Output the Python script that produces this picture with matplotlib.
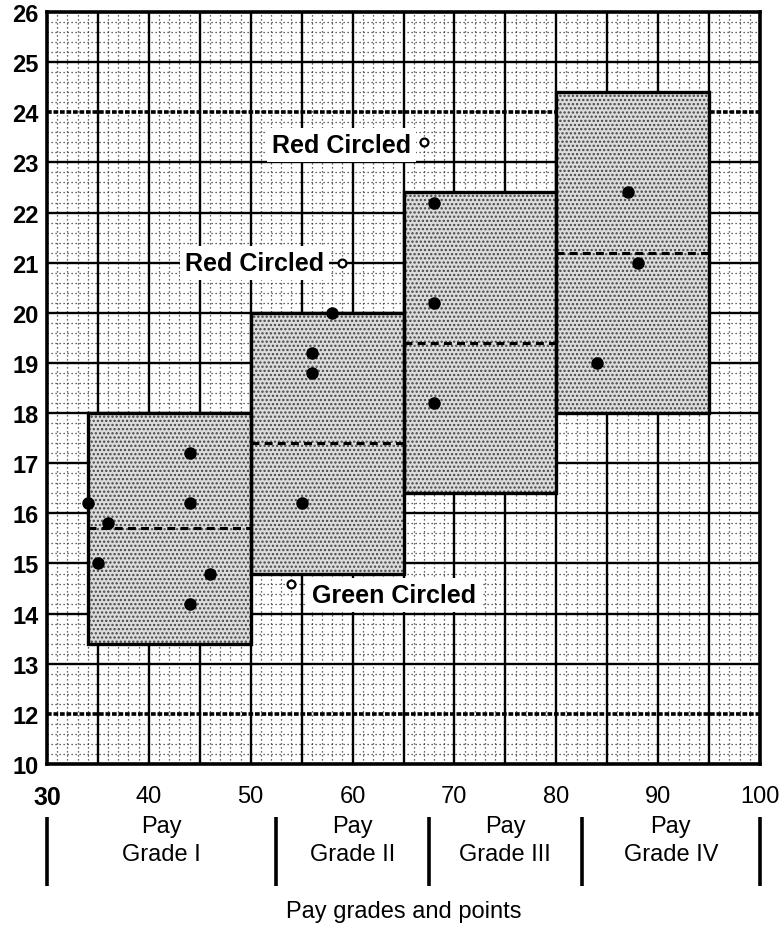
import numpy as np
import matplotlib
matplotlib.use("Agg")
import matplotlib.pyplot as plt
import matplotlib.transforms as mtransforms
from matplotlib.patches import Rectangle

plt.rcParams["font.family"] = ["Liberation Sans", "DejaVu Sans"]
plt.rcParams["hatch.linewidth"] = 1.1

# pay grade ranges (points on x, pay on y)
grade_names = ["Grade I", "Grade II", "Grade III", "Grade IV"]
grade_bounds = [30, 52.5, 67.5, 82.5, 100]
box_left = [34, 50, 65, 80]
box_right = [50, 65, 80, 95]
box_low = [13.4, 14.8, 16.4, 18.0]
box_high = [18.0, 20.0, 22.4, 24.4]
box_mid = [15.7, 17.4, 19.4, 21.2]

# jobs inside the ranges
jobs_x = [44, 44, 34, 36, 35, 46, 44, 58, 56, 56, 55, 68, 68, 68, 87, 88, 84]
jobs_y = [17.2, 16.2, 16.2, 15.8, 15.0, 14.8, 14.2,
          20.0, 19.2, 18.8, 16.2,
          22.2, 20.2, 18.2,
          22.4, 21.0, 19.0]

# circled jobs
circ_x = [67, 59, 54]
circ_y = [23.4, 21.0, 14.6]
circ_labels = ["Red Circled", "Red Circled", "Green Circled"]

x_ticks = [30, 40, 50, 60, 70, 80, 90, 100]
# axis is broken at the bottom: the last line is labelled 10
y_ticks = list(range(11, 27))
y_labels = ["10"] + [str(v) for v in range(12, 27)]


fig = plt.figure(figsize=(7.81, 9.29), dpi=100)
ax = fig.add_axes([0.0602, 0.1765, 0.9129, 0.8095])
ax.set_xlim(30, 100)
ax.set_ylim(11, 26)

# ---- graph paper -------------------------------------------------------------
dot = (0, (1, 2.2))
for x in range(31, 100):
    if x % 5:
        ax.axvline(x, color="#333333", lw=0.9, ls=dot, zorder=1)
for y in np.arange(11, 26, 0.2):
    if abs(y - round(y)) > 0.05:
        ax.axhline(y, color="#333333", lw=0.9, ls=dot, zorder=1)
for x in range(35, 100, 5):
    ax.axvline(x, color="black", lw=1.7, zorder=2)
for y in range(12, 26):
    if y in (12, 24):
        ax.axhline(y, color="black", lw=2.6, ls=(0, (1.3, 0.5)), zorder=2)
    else:
        ax.axhline(y, color="black", lw=1.7, zorder=2)

# ---- pay ranges ---------------------------------------------------------------
for l, r, lo, hi, mid in zip(box_left, box_right, box_low, box_high, box_mid):
    ax.add_patch(Rectangle((l, lo), r - l, hi - lo, facecolor="#dcdcdc",
                           edgecolor="#444444", hatch="....", lw=0, zorder=3))
    ax.add_patch(Rectangle((l, lo), r - l, hi - lo, fill=False,
                           edgecolor="black", lw=2.4, zorder=4))
    ax.plot([l, r], [mid, mid], color="black", lw=2.2, dashes=(2.6, 1.7), zorder=4)

ax.scatter(jobs_x, jobs_y, s=64, color="black", zorder=5)
ax.scatter(circ_x, circ_y, s=32, facecolor="white", edgecolor="black",
           linewidth=1.6, zorder=6)

offsets = [(-9.5, -2), (-13.5, 0), (15, -8)]
aligns = ["right", "right", "left"]
for x, y, lab, off, ha in zip(circ_x, circ_y, circ_labels, offsets, aligns):
    ax.annotate(lab, (x, y), xytext=off, textcoords="offset points",
                ha=ha, va="center", fontsize=18, fontweight="bold", zorder=7,
                bbox=dict(boxstyle="square,pad=0.2", fc="white", ec="none"))

# ---- axes / ticks ------------------------------------------------------------
for s in ax.spines.values():
    s.set_linewidth(2.6)
    s.set_zorder(8)

ax.set_xticks(x_ticks)
ax.set_xticklabels([str(v) for v in x_ticks], fontsize=17)
ax.get_xticklabels()[0].set_fontweight("bold")
ax.get_xticklabels()[0].set_fontsize(18)
ax.set_yticks(y_ticks)
ax.set_yticklabels(y_labels, fontsize=17, fontweight="bold")
ax.tick_params(axis="x", length=0, pad=15)
ax.tick_params(axis="y", length=0, pad=6)

# grade bands under the axis
trans = mtransforms.blended_transform_factory(ax.transData, ax.transAxes)
for x in grade_bounds:
    ax.plot([x, x], [-0.0705, -0.1622], transform=trans, clip_on=False,
            color="black", lw=2.6, solid_capstyle="butt")
for i, name in enumerate(grade_names):
    cx = (grade_bounds[i] + grade_bounds[i + 1]) / 2
    ax.text(cx, -0.0824, "Pay", transform=trans, ha="center", va="center", fontsize=17)
    ax.text(cx, -0.1197, name, transform=trans, ha="center", va="center", fontsize=17)

ax.text(0.5, -0.1955, "Pay grades and points", transform=ax.transAxes,
        ha="center", va="center", fontsize=17)

fig.savefig("out.png", dpi=100)
